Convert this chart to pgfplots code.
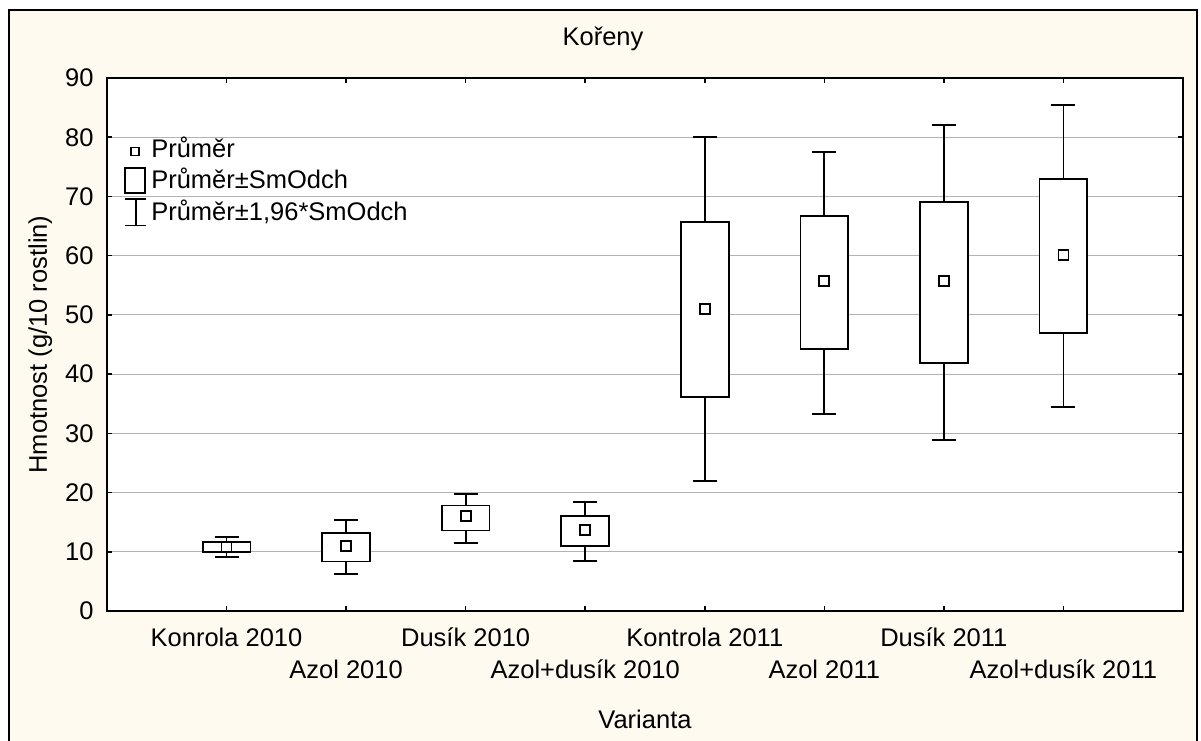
\documentclass[border=0pt]{standalone}
\usepackage{pgfplots}
\pgfplotsset{compat=1.18}
\usepgfplotslibrary{statistics}
\usepackage{fontspec}
\setmainfont{Liberation Sans}
\definecolor{cream}{RGB}{255,250,240}
\newcommand{\lf}{\fontsize{12.75pt}{15pt}\selectfont}

\begin{document}
\begin{tikzpicture}
\useasboundingbox (-53.5pt,-64.5pt) rectangle (547pt,305.5pt);
\fill[white] (-53.5pt,-64.5pt) rectangle (547pt,305.5pt);
\fill[cream] (-49pt,-70pt) rectangle (545pt,300.5pt);
\draw[line width=1pt] (-49pt,-70pt) -- (-49pt,300.5pt) -- (545pt,300.5pt) -- (545pt,-70pt);
\begin{axis}[
  at={(0pt,0pt)}, anchor=south west,
  scale only axis, width=538pt, height=266.5pt,
  xmin=0, xmax=9, ymin=0, ymax=90,
  axis background/.style={fill=white},
  axis line style={line width=1pt},
  every tick/.style={black, line width=0.8pt},
  tick align=inside, major tick length=2.5pt,
  xtick={1,...,8},
  xticklabels={Konrola 2010, \raisebox{-15.9pt}{Azol 2010}, Dusík 2010, \raisebox{-15.9pt}{Azol+dusík 2010}, Kontrola 2011, \raisebox{-15.9pt}{Azol 2011}, Dusík 2011, \raisebox{-15.9pt}{Azol+dusík 2011}},
  ytick={0,10,...,90},
  ymajorgrids,
  grid style={line width=0.5pt, gray!60},
  /pgf/number format/assume math mode=true,
  yticklabel style={anchor=east, inner sep=0pt, xshift=-6.5pt, font=\lf},
  xticklabel style={anchor=base, inner sep=0pt, yshift=-17.8pt, font=\lf},
  title={Kořeny},
  title style={at={(axis description cs:0.461,1)}, anchor=base, yshift=10.5pt, inner sep=0pt, font=\lf},
  xlabel={Varianta},
  every axis x label/.style={at={(axis description cs:0.5,0)}, anchor=base, yshift=-58.7pt, inner sep=0pt, font=\lf},
  ylabel={Hmotnost (g/10 rostlin)},
  every axis y label/.style={at={(axis description cs:0,0.5)}, xshift=-30pt, rotate=90, anchor=base, inner sep=0pt, font=\lf},
  legend style={at={(axis description cs:0.0158,0.892)}, anchor=north west, draw=none, fill=none, font=\lf, row sep=0pt, inner sep=0pt, nodes={inner sep=1pt, text height=10pt, text depth=3.5pt}},
  legend cell align=left,
  boxplot/draw direction=y,
  boxplot/box extend=0.4,
  boxplot/whisker extend=0.2,
  boxplot/draw/median/.code={},
]
\addlegendimage{legend image code/.code={\path[draw=none] (0pt,0pt) -- (12pt,0pt); \draw[black, line width=0.9pt] (2.9pt,-2pt) rectangle (6.9pt,2pt);}}
\addlegendentry{Průměr}
\addlegendimage{legend image code/.code={\path[draw=none] (0pt,0pt) -- (12pt,0pt); \draw[black, line width=0.9pt] (0pt,-5.25pt) rectangle (10pt,7.25pt);}}
\addlegendentry{Průměr±SmOdch}
\addlegendimage{legend image code/.code={\path[draw=none] (0pt,0pt) -- (12pt,0pt); \draw[black, line width=0.9pt] (0pt,-5.65pt) -- (10.5pt,-5.65pt) (5.25pt,-5.65pt) -- (5.25pt,7.65pt) (0pt,7.65pt) -- (10.5pt,7.65pt);}}
\addlegendentry{Průměr±1,96*SmOdch}

\addplot[black, line width=0.9pt, fill=white, forget plot, boxplot prepared={draw position=1, lower whisker=9.15, lower quartile=9.93, median=10.8, upper quartile=11.67, upper whisker=12.5}] coordinates {};
\addplot[black, line width=0.9pt, fill=white, forget plot, boxplot prepared={draw position=2, lower whisker=6.2, lower quartile=8.37, median=10.75, upper quartile=13.13, upper whisker=15.4}] coordinates {};
\addplot[black, line width=0.9pt, fill=white, forget plot, boxplot prepared={draw position=3, lower whisker=11.5, lower quartile=13.6, median=15.7, upper quartile=17.8, upper whisker=19.8}] coordinates {};
\addplot[black, line width=0.9pt, fill=white, forget plot, boxplot prepared={draw position=4, lower whisker=8.47, lower quartile=10.94, median=13.47, upper quartile=16.0, upper whisker=18.47}] coordinates {};
\addplot[black, line width=0.9pt, fill=white, forget plot, boxplot prepared={draw position=5, lower whisker=21.9, lower quartile=36.2, median=50.95, upper quartile=65.7, upper whisker=80.0}] coordinates {};
\addplot[black, line width=0.9pt, fill=white, forget plot, boxplot prepared={draw position=6, lower whisker=33.3, lower quartile=44.2, median=55.45, upper quartile=66.7, upper whisker=77.5}] coordinates {};
\addplot[black, line width=0.9pt, fill=white, forget plot, boxplot prepared={draw position=7, lower whisker=28.9, lower quartile=41.9, median=55.5, upper quartile=69.05, upper whisker=82.0}] coordinates {};
\addplot[black, line width=0.9pt, fill=white, forget plot, boxplot prepared={draw position=8, lower whisker=34.4, lower quartile=46.9, median=59.95, upper quartile=73.0, upper whisker=85.4}] coordinates {};

\addplot[only marks, mark=square, mark size=2.5pt, mark options={black, line width=0.9pt}, forget plot] coordinates {(1,10.9) (2,11.0) (3,16.0) (4,13.7) (5,51.0) (6,55.7) (7,55.7) (8,60.1)};
\end{axis}
\end{tikzpicture}
\end{document}
